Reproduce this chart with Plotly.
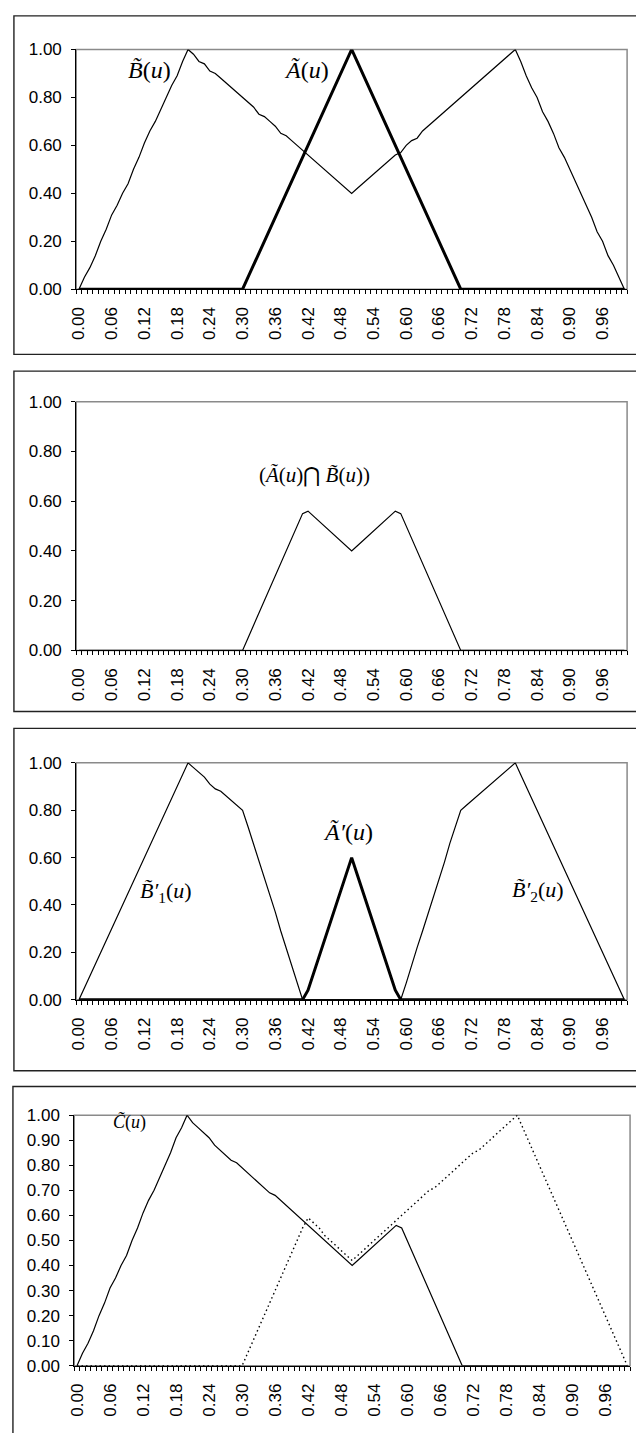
import plotly.graph_objects as go

# ---------------- data ----------------
U = [round(i * 0.01, 2) for i in range(101)]          # categories 0.00 .. 1.00
X_TICK_VALUES = [0.00, 0.06, 0.12, 0.18, 0.24, 0.30, 0.36, 0.42, 0.48, 0.54,
                 0.60, 0.66, 0.72, 0.78, 0.84, 0.90, 0.96]
X_TICK_TEXT = ["0.00", "0.06", "0.12", "0.18", "0.24", "0.30", "0.36", "0.42", "0.48",
               "0.54", "0.60", "0.66", "0.72", "0.78", "0.84", "0.90", "0.96"]
Y_TICKS_A = [0.0, 0.2, 0.4, 0.6, 0.8, 1.0]
Y_TICKS_B = [0.0, 0.1, 0.2, 0.3, 0.4, 0.5, 0.6, 0.7, 0.8, 0.9, 1.0]

# panel 1
B_U = ([0.00, 0.05, 0.09, 0.14, 0.20, 0.25, 0.31, 0.35, 0.40, 0.44, 0.50,
        0.55, 0.61, 0.66, 0.70, 0.75, 0.80, 0.85, 0.89, 0.95, 1.00]
       + [0.98, 0.95, 0.94, 0.91, 0.90, 0.88, 0.86, 0.84, 0.82, 0.80,
          0.78, 0.76, 0.73, 0.72, 0.70, 0.68, 0.65, 0.64, 0.62, 0.60,
          0.58, 0.56, 0.54, 0.52, 0.50, 0.48, 0.46, 0.44, 0.42, 0.40]
       + [0.42, 0.44, 0.46, 0.48, 0.50, 0.52, 0.54, 0.56, 0.57, 0.60,
          0.62, 0.63, 0.66, 0.68, 0.70, 0.72, 0.74, 0.76, 0.78, 0.80,
          0.82, 0.84, 0.86, 0.88, 0.90, 0.92, 0.94, 0.96, 0.98, 1.00]
       + [0.95, 0.89, 0.84, 0.80, 0.74, 0.70, 0.65, 0.59, 0.55, 0.50,
          0.45, 0.40, 0.35, 0.30, 0.24, 0.20, 0.14, 0.10, 0.05, 0.00])
A_U = ([0.00] * 31
       + [0.05, 0.10, 0.15, 0.20, 0.25, 0.30, 0.35, 0.40, 0.45, 0.50,
          0.55, 0.60, 0.65, 0.70, 0.75, 0.80, 0.85, 0.90, 0.95, 1.00]
       + [0.95, 0.90, 0.85, 0.80, 0.75, 0.70, 0.65, 0.60, 0.55, 0.50,
          0.45, 0.40, 0.35, 0.30, 0.25, 0.20, 0.15, 0.10, 0.05, 0.00]
       + [0.00] * 30)

# panel 2
A_AND_B = ([0.00] * 31
           + [0.05, 0.10, 0.15, 0.20, 0.25, 0.30, 0.35, 0.40, 0.45, 0.50, 0.55]
           + [0.56, 0.54, 0.52, 0.50, 0.48, 0.46, 0.44, 0.42, 0.40]
           + [0.42, 0.44, 0.46, 0.48, 0.50, 0.52, 0.54, 0.56]
           + [0.55, 0.50, 0.45, 0.40, 0.35, 0.30, 0.25, 0.20, 0.15, 0.10, 0.05, 0.00]
           + [0.00] * 30)

# panel 3
B1_PRIME = ([0.00, 0.05, 0.10, 0.15, 0.20, 0.25, 0.30, 0.35, 0.40, 0.45, 0.50,
             0.55, 0.60, 0.65, 0.70, 0.75, 0.80, 0.85, 0.90, 0.95, 1.00]
            + [0.98, 0.96, 0.94, 0.91, 0.89, 0.88, 0.86, 0.84, 0.82, 0.80]
            + [0.73, 0.66, 0.58, 0.51, 0.44, 0.37, 0.29, 0.22, 0.15, 0.07, 0.00]
            + [0.00] * 59)
A_PRIME = ([0.00] * 42
           + [0.04, 0.11, 0.18, 0.25, 0.32, 0.39, 0.46, 0.53, 0.60]
           + [0.53, 0.46, 0.39, 0.32, 0.25, 0.18, 0.11, 0.04, 0.00]
           + [0.00] * 41)
B2_PRIME = ([0.00] * 59
            + [0.00, 0.07, 0.15, 0.22, 0.29, 0.36, 0.44, 0.51, 0.58, 0.66, 0.73, 0.80]
            + [0.82, 0.84, 0.86, 0.88, 0.90, 0.92, 0.94, 0.96, 0.98, 1.00]
            + [0.95, 0.90, 0.85, 0.80, 0.75, 0.70, 0.65, 0.60, 0.55, 0.50,
               0.45, 0.40, 0.35, 0.30, 0.25, 0.20, 0.15, 0.10, 0.05, 0.00])

# panel 4
C_U = ([0.00, 0.05, 0.09, 0.14, 0.20, 0.25, 0.31, 0.35, 0.40, 0.44, 0.50,
        0.55, 0.61, 0.66, 0.70, 0.75, 0.80, 0.85, 0.91, 0.95, 1.00]
       + [0.97, 0.95, 0.93, 0.91, 0.88, 0.86, 0.84, 0.82, 0.81, 0.79,
          0.77, 0.75, 0.73, 0.71, 0.69, 0.68, 0.66, 0.64, 0.62, 0.60,
          0.58, 0.56, 0.54, 0.52, 0.50, 0.48, 0.46, 0.44, 0.42, 0.40]
       + [0.42, 0.44, 0.46, 0.48, 0.50, 0.52, 0.54, 0.56]
       + [0.55, 0.50, 0.45, 0.40, 0.35, 0.30, 0.25, 0.20, 0.15, 0.10, 0.05, 0.00]
       + [0.00] * 30)
C_DOTTED = ([0.00] * 31
            + [0.05, 0.10, 0.15, 0.20, 0.25, 0.30, 0.35, 0.40, 0.45, 0.50, 0.55]
            + [0.59, 0.57, 0.55, 0.52, 0.50, 0.48, 0.46, 0.44, 0.42]
            + [0.44, 0.46, 0.48, 0.50, 0.52, 0.54, 0.56, 0.58]
            + [0.60, 0.62, 0.64, 0.66, 0.68, 0.70, 0.71, 0.73, 0.75, 0.77, 0.79,
               0.81, 0.83, 0.85, 0.86, 0.88, 0.90, 0.92, 0.94, 0.96, 0.98, 1.00]
            + [0.95, 0.90, 0.85, 0.80, 0.75, 0.70, 0.65, 0.60, 0.55, 0.50,
               0.45, 0.40, 0.35, 0.30, 0.25, 0.20, 0.15, 0.10, 0.05, 0.00])

# ---------------- layout ----------------
W, H = 636, 1433
# plot areas in pixels: left, right, top, bottom
PLOTS = [
    dict(l=70, r=627, t=41, b=284),
    dict(l=70, r=627, t=398, b=650),
    dict(l=70, r=627, t=764, b=1004),
    dict(l=68, r=630, t=1121, b=1375),
]
# outer frames in pixels: left, top, bottom
FRAMES = [(7, 7, 350), (7, 367, 712), (7, 729, 1076), (6, 1092, 1450)]

XTICK_FONT = dict(family="Liberation Sans, Arial, sans-serif", size=17, color="black")
YTICK_FONT = dict(family="Liberation Sans, Arial, sans-serif", size=17, color="black")
SERIF = "Liberation Serif, Times New Roman, serif"

fig = go.Figure()

thin = dict(color="black", width=1.2)
thick = dict(color="black", width=3)

series = [
    (1, B_U, thin), (1, A_U, thick),
    (2, A_AND_B, thin),
    (3, B1_PRIME, thin), (3, B2_PRIME, thin), (3, A_PRIME, thick),
    (4, C_DOTTED, dict(color="black", width=1.4, dash="1.5px,3px")), (4, C_U, thin),
]
for k, ys, ln in series:
    sfx = "" if k == 1 else str(k)
    fig.add_trace(go.Scatter(x=U, y=ys, mode="lines", line=ln, xaxis="x" + sfx,
                             yaxis="y" + sfx, showlegend=False, cliponaxis=False,
                             hoverinfo="skip"))

shapes = []
for k, p in enumerate(PLOTS, start=1):
    sfx = "" if k == 1 else str(k)
    xd = [p["l"] / W, p["r"] / W]
    yd = [1 - p["b"] / H, 1 - p["t"] / H]
    fig.layout["xaxis" + sfx] = dict(
        domain=xd, anchor="y" + sfx, range=[-0.005, 1.005],
        tickmode="array", tickvals=X_TICK_VALUES, ticktext=X_TICK_TEXT,
        tickangle=-90, ticks="", tickfont=XTICK_FONT, ticklabelstandoff=10,
        showline=True, linecolor="black", linewidth=1, showgrid=False, zeroline=False,
        minor=dict(tick0=-0.005, dtick=0.01, ticks="outside", ticklen=4,
                   tickcolor="black", tickwidth=1, showgrid=False),
        fixedrange=True,
    )
    fig.layout["yaxis" + sfx] = dict(
        domain=yd, anchor="x" + sfx, range=[0, 1],
        tickmode="array", tickvals=(Y_TICKS_B if k == 4 else Y_TICKS_A),
        tickformat=".2f", ticks="outside", ticklen=4, tickcolor="black",
        tickfont=YTICK_FONT, ticklabelstandoff=6,
        showline=True, linecolor="black", linewidth=1, showgrid=False, zeroline=False,
        fixedrange=True,
    )
    shapes.append(dict(type="rect", xref="x" + sfx + " domain", yref="y" + sfx + " domain",
                       x0=0, x1=1, y0=0, y1=1, line=dict(color="#8a8a8a", width=1.5),
                       layer="below"))

for (fl, ft, fb) in FRAMES:
    shapes.append(dict(type="rect", xref="paper", yref="paper",
                       x0=fl / W, x1=645 / W, y0=1 - fb / H, y1=1 - ft / H,
                       line=dict(color="#222222", width=1.4), layer="below"))

def ann(text, px, py, size):
    return dict(text=text, x=px / W, y=1 - py / H, xref="paper", yref="paper",
                showarrow=False, xanchor="center", yanchor="middle",
                font=dict(family=SERIF, size=size, color="black"))

T = "\u0303"
annotations = [
    ann("<i>B" + T + "</i>(<i>u</i>)", 144, 62, 24),
    ann("<i>A" + T + "</i>(<i>u</i>)", 303, 62, 24),
    ann("(<i>A" + T + "</i>(<i>u</i>)\u22C2 <i>B" + T + "</i>(<i>u</i>))", 311, 472, 21),
    ann("<i>A" + T + "\u2032</i>(<i>u</i>)", 345, 834, 24),
    ann("<i>B" + T + "\u2032</i><sub>1</sub>(<i>u</i>)", 161, 895, 22),
    ann("<i>B" + T + "\u2032</i><sub>2</sub>(<i>u</i>)", 537, 894, 22),
    ann("<i>C" + T + "</i>(<i>u</i>)", 124, 1128, 18),
]

fig.update_layout(
    width=W, height=H, margin=dict(l=0, r=0, t=0, b=0),
    paper_bgcolor="white", plot_bgcolor="white",
    shapes=shapes, annotations=annotations, showlegend=False,
)

fig.write_html("out.html", config={"displayModeBar": False})
